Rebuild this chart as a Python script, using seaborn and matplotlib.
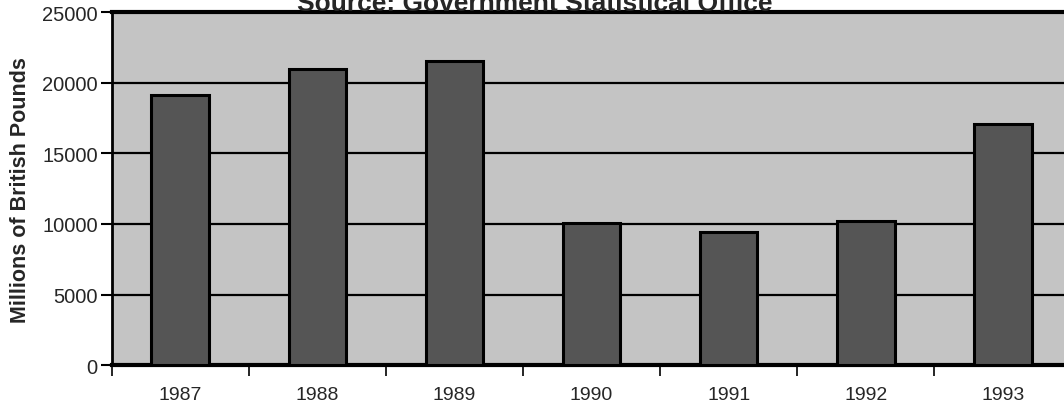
import numpy as np
import pandas as pd
import seaborn as sns
import matplotlib.pyplot as plt
from matplotlib.ticker import FixedLocator

years = ["1987", "1988", "1989", "1990", "1991", "1992", "1993"]
values = [19150, 20950, 21550, 10100, 9400, 10200, 17100]
y_ticks = [0, 5000, 10000, 15000, 20000, 25000]

sns.set_theme(style="white")
plt.rcParams["font.family"] = ["Liberation Sans", "DejaVu Sans"]

df = pd.DataFrame({"year": years, "value": values})

fig = plt.figure(figsize=(10.64, 4.10), dpi=100)
ax = fig.add_axes([0.105, 0.107, 0.902, 0.861])
ax.set_facecolor("#c4c4c4")

sns.barplot(data=df, x="year", y="value", color="#555555", width=0.42,
            edgecolor="black", linewidth=2.2, saturation=1, ax=ax, zorder=3)

ax.set_ylim(0, 25000)
ax.set_xlim(-0.5, len(years) - 0.5)
ax.set_yticks(y_ticks)
ax.set_yticklabels([str(t) for t in y_ticks], fontsize=14.5)
ax.yaxis.grid(True, color="black", linewidth=1.6, zorder=1)
ax.set_axisbelow(True)

ax.tick_params(axis="y", length=8, width=1.5, color="black", left=True, pad=2)
ax.tick_params(axis="x", which="major", length=0, pad=15, labelsize=14)
ax.xaxis.set_minor_locator(FixedLocator(np.arange(-0.5, len(years), 1.0)))
ax.tick_params(axis="x", which="minor", length=8, width=1.2, color="black",
               bottom=True, direction="out")

for side in ["top", "bottom", "left", "right"]:
    ax.spines[side].set_color("black")
ax.spines["top"].set_linewidth(3)
ax.spines["bottom"].set_linewidth(3)
ax.spines["left"].set_linewidth(2)

ax.set_xlabel("")
ax.set_ylabel("Millions of British Pounds", fontsize=15.5, fontweight="bold",
              labelpad=8)

fig.text(0.503, 1 - 11 / 410, "Source: Government Statistical Office",
         ha="center", va="baseline", fontsize=19, fontweight="bold")

fig.savefig("out.png", dpi=100)
